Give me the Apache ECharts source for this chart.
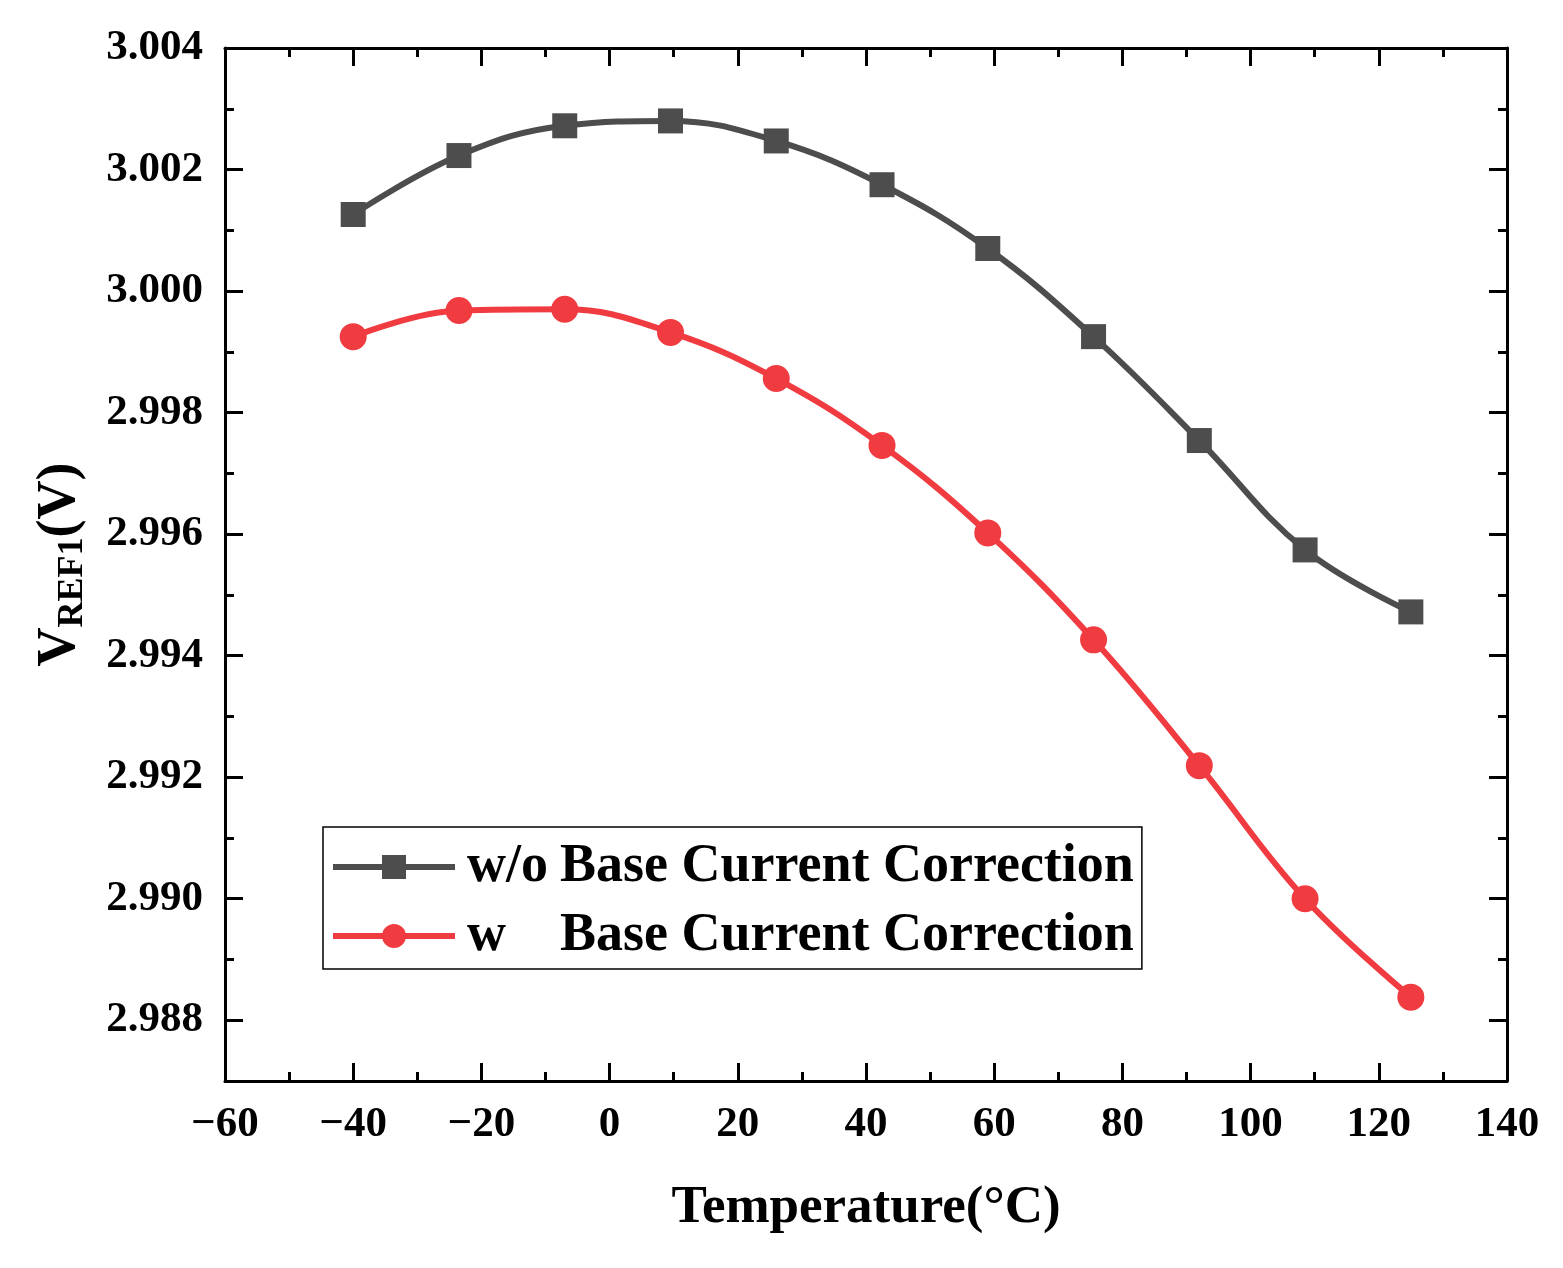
<!DOCTYPE html>
<html><head><meta charset="utf-8">
<script src="https://cdn.jsdelivr.net/npm/echarts@6/dist/echarts.min.js"></script>
<style>html,body{margin:0;padding:0;background:#fff}#c{width:1563px;height:1268px}</style>
</head><body><div id="c"></div>
<script>
const temps = [-40, -23.5, -7, 9.5, 26, 42.5, 59, 75.5, 92, 108.5, 125];
const woValues = [3.00126, 3.00223, 3.00272, 3.00280, 3.00247, 3.00175, 3.00070, 2.99925, 2.99754, 2.99574, 2.99472];
const wValues = [2.99925, 2.99968, 2.99970, 2.99932, 2.99856, 2.99746, 2.99602, 2.99426, 2.99219, 2.99000, 2.98838];
const seriesNames = ['w/o Base Current Correction', 'w    Base Current Correction'];
const legendPrefix = ['w/o', 'w'];
const legendRest = 'Base Current Correction';
const yMajorTicks = [2.988, 2.990, 2.992, 2.994, 2.996, 2.998, 3.000, 3.002, 3.004];
const xTitle = 'Temperature(°C)';

const FF = '"Liberation Serif","Times New Roman",serif';
const gridRect = {left: 225, right: 56, top: 48, bottom: 187};
const lineCol = '#000';

function pairs(xs, ys) { return xs.map((x, i) => [x, ys[i]]); }

const xCommon = {
  type: 'value', min: -60, max: 140, interval: 20,
  axisLine: {show: true, onZero: false, lineStyle: {color: lineCol, width: 3}},
  axisTick: {show: true, inside: true, length: 18, lineStyle: {color: lineCol, width: 3}},
  minorTick: {show: true, splitNumber: 2, length: 9, lineStyle: {color: lineCol, width: 3}},
  splitLine: {show: false}
};
const yMinor = {
  type: 'value', min: 2.987, max: 3.004, interval: 0.001, gridIndex: 1,
  axisLine: {show: false, onZero: false},
  axisTick: {show: true, inside: true, length: 9, lineStyle: {color: lineCol, width: 3}},
  axisLabel: {show: false}, splitLine: {show: false}
};
const yMajor = {
  type: 'value', min: 2.987, max: 3.004, gridIndex: 0,
  axisLine: {show: true, onZero: false, lineStyle: {color: lineCol, width: 3}},
  axisTick: {show: true, inside: true, length: 18, customValues: yMajorTicks, lineStyle: {color: lineCol, width: 3}},
  splitLine: {show: false}
};

const option = {
  backgroundColor: '#fff',
  animation: false,
  grid: [Object.assign({}, gridRect), Object.assign({}, gridRect)],
  xAxis: [
    Object.assign({}, xCommon, {
      gridIndex: 0, position: 'bottom',
      name: xTitle, nameLocation: 'middle', nameGap: 101,
      nameTextStyle: {fontFamily: FF, fontWeight: 'bold', fontSize: 53, color: '#000'},
      axisLabel: {show: true, margin: 22, fontFamily: FF, fontWeight: 'bold', fontSize: 43, color: '#000',
        formatter: v => v < 0 ? '\u2212' + Math.abs(v) : String(v)}
    }),
    Object.assign({}, xCommon, {gridIndex: 0, position: 'top', axisLabel: {show: false}}),
    {type: 'value', gridIndex: 1, min: -60, max: 140, show: false}
  ],
  yAxis: [
    Object.assign({}, yMajor, {
      position: 'left',
      name: '{v|V}{s|REF1}{v|(V)}', nameLocation: 'middle', nameGap: 134,
      nameTextStyle: {
        rich: {
          v: {fontFamily: FF, fontWeight: 'bold', fontSize: 54, color: '#000', verticalAlign: 'bottom', padding: [0, 0, 4, 0]},
          s: {fontFamily: FF, fontWeight: 'bold', fontSize: 36, color: '#000', verticalAlign: 'bottom'}
        }
      },
      axisLabel: {show: true, margin: 22, customValues: yMajorTicks, fontFamily: FF, fontWeight: 'bold', fontSize: 43, color: '#000',
        formatter: v => v.toFixed(3)}
    }),
    Object.assign({}, yMajor, {position: 'right', axisLabel: {show: false}}),
    Object.assign({}, yMinor, {position: 'left'}),
    Object.assign({}, yMinor, {position: 'right'})
  ],
  legend: {
    show: true, orient: 'vertical', left: 323, top: 827,
    padding: [13, 8, 6, 7], itemGap: 15, itemWidth: 122, itemHeight: 30,
    borderColor: '#000', borderWidth: 1.5, backgroundColor: '#fff',
    lineStyle: {width: 6},
    data: seriesNames,
    formatter: name => {
      const i = seriesNames.indexOf(name);
      return '{a|' + legendPrefix[i] + '}{b|' + legendRest + '}';
    },
    textStyle: {
      fontFamily: FF, fontWeight: 'bold', fontSize: 54, color: '#000',
      rich: {
        a: {fontFamily: FF, fontWeight: 'bold', fontSize: 54, color: '#000', width: 93, padding: [0, 0, 0, 7]},
        b: {fontFamily: FF, fontWeight: 'bold', fontSize: 54, color: '#000'}
      }
    }
  },
  series: [
    {
      name: seriesNames[0], type: 'line', xAxisIndex: 0, yAxisIndex: 0,
      data: pairs(temps, woValues), smooth: 0.4,
      symbol: 'rect', symbolSize: 25,
      itemStyle: {color: '#4d4d4d'}, lineStyle: {color: '#4d4d4d', width: 6}
    },
    {
      name: seriesNames[1], type: 'line', xAxisIndex: 0, yAxisIndex: 0,
      data: pairs(temps, wValues), smooth: 0.4,
      symbol: 'circle', symbolSize: 27,
      itemStyle: {color: '#f03c41'}, lineStyle: {color: '#f03c41', width: 6}
    }
  ]
};
const chart = echarts.init(document.getElementById('c'), null, {renderer: 'canvas'});
chart.setOption(option);
</script></body></html>
